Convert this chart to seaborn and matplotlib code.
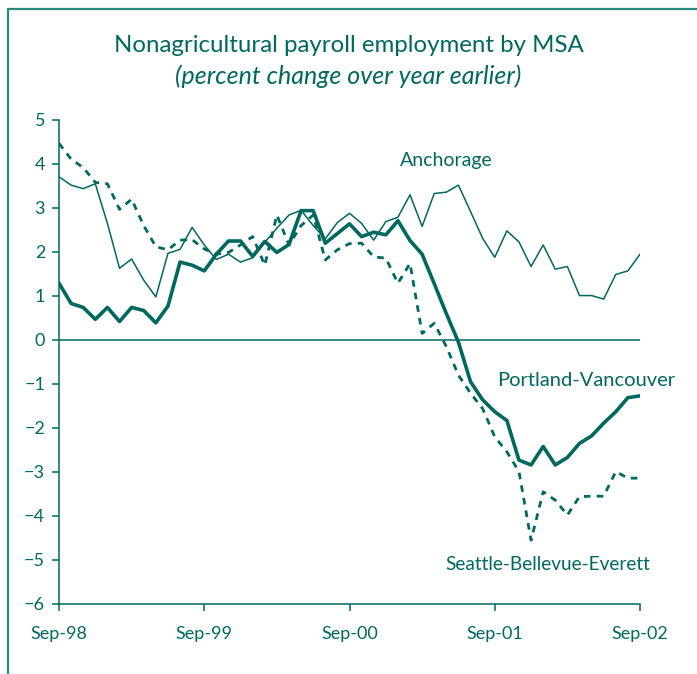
import numpy as np
import pandas as pd
import matplotlib
matplotlib.use("Agg")
import matplotlib.pyplot as plt
import seaborn as sns
from matplotlib.lines import Line2D

# ------------------------------------------------------------------------------------------------

# DATA (monthly, Sep-98 .. Sep-02, percent change over year earlier).

tick_labels = ["Sep-98", "Sep-99", "Sep-00", "Sep-01", "Sep-02"]

anchorage = [3.71, 3.52, 3.44, 3.55, 2.65, 1.63, 1.84, 1.36, 0.98, 1.97,
             2.06, 2.56, 2.16, 1.83, 1.95, 1.77, 1.87, 2.22, 2.54, 2.84,
             2.95, 2.60, 2.30, 2.67, 2.88, 2.65, 2.27, 2.69, 2.79, 3.30,
             2.58, 3.33, 3.36, 3.52, 2.92, 2.31, 1.88, 2.48, 2.23, 1.67,
             2.16, 1.61, 1.67, 1.01, 1.01, 0.93, 1.49, 1.57, 1.95]

portland = [1.29, 0.83, 0.74, 0.47, 0.74, 0.42, 0.74, 0.67, 0.39, 0.77,
            1.77, 1.70, 1.57, 1.95, 2.25, 2.25, 1.90, 2.24, 1.99, 2.17,
            2.94, 2.94, 2.20, 2.42, 2.64, 2.35, 2.45, 2.39, 2.71, 2.26,
            1.95, 1.28, 0.60, -0.05, -0.95, -1.36, -1.63, -1.83, -2.73, -2.84,
            -2.42, -2.84, -2.67, -2.35, -2.18, -1.89, -1.63, -1.31, -1.27]

seattle = [4.47, 4.11, 3.92, 3.58, 3.55, 2.97, 3.20, 2.60, 2.12, 2.05,
           2.27, 2.28, 2.07, 1.95, 1.99, 2.16, 2.35, 1.70, 2.84, 2.16,
           2.60, 2.84, 1.82, 2.05, 2.19, 2.20, 1.89, 1.86, 1.29, 1.74,
           0.15, 0.38, -0.15, -0.80, -1.21, -1.56, -2.20, -2.54, -2.99, -4.55,
           -3.45, -3.64, -3.98, -3.56, -3.55, -3.55, -2.99, -3.14, -3.14]

months = np.arange(len(anchorage))
df = pd.DataFrame({"month": months, "Anchorage": anchorage,
                   "Portland-Vancouver": portland, "Seattle-Bellevue-Everett": seattle})

# STYLE.

sns.set_style("white")
plt.rcParams["font.family"] = ["Lato", "DejaVu Sans"]
teal = "#00695f"
frame_teal = "#2b8a80"

fig = plt.figure(figsize=(6.97, 6.74), dpi=100)
ax = fig.add_axes([59 / 697, 1 - 604 / 674, 581 / 697, 484 / 674])

# LINES.

sns.lineplot(data=df, x="month", y="Anchorage", ax=ax, color=teal, lw=1.1)
sns.lineplot(data=df, x="month", y="Portland-Vancouver", ax=ax, color=teal, lw=2.6)
sns.lineplot(data=df, x="month", y="Seattle-Bellevue-Everett", ax=ax, color=teal,
             lw=2.0, dashes=False).lines[-1].set_dashes([2.4, 2.2])

ax.axhline(0, color=teal, lw=1.1, zorder=1)

# AXES.

ax.set_xlim(0, 48)
ax.set_ylim(-6, 5)
ax.set_xticks(np.arange(0, 49, 12))
ax.set_xticklabels(tick_labels)
ax.set_yticks(np.arange(-6, 6, 1))
ax.set_xlabel("")
ax.set_ylabel("")
for side in ["top", "right"]:
    ax.spines[side].set_visible(False)
for side in ["left", "bottom"]:
    ax.spines[side].set_color(teal)
    ax.spines[side].set_linewidth(1.1)
ax.tick_params(axis="both", colors=teal, labelcolor=teal, labelsize=13,
               direction="out", length=5, width=1.1, left=True, bottom=True)
ax.tick_params(axis="x", pad=11)
ax.tick_params(axis="y", pad=5)

# LABELS.

ax.text(28.2, 4.09, "Anchorage", color=teal, fontsize=14, ha="left", va="center")
ax.text(36.2, -0.91, "Portland-Vancouver", color=teal, fontsize=14.5, ha="left", va="center")
ax.text(31.9, -5.11, "Seattle-Bellevue-Everett", color=teal, fontsize=13.7, ha="left", va="center")

fig.text(0.5, 1 - 45 / 674, "Nonagricultural payroll employment by MSA", color=teal,
         fontsize=17.3, ha="center", va="center")
fig.text(0.5, 1 - 76 / 674, "(percent change over year earlier)", color=teal,
         fontsize=18, style="italic", ha="center", va="center")

# FRAME (top and left only).

fig.add_artist(Line2D([8 / 697, 1], [1 - 9 / 674, 1 - 9 / 674], color=frame_teal, lw=1.6))
fig.add_artist(Line2D([8 / 697, 8 / 697], [0, 1 - 9 / 674], color=frame_teal, lw=1.6))

plt.savefig("out.png", dpi=100)
